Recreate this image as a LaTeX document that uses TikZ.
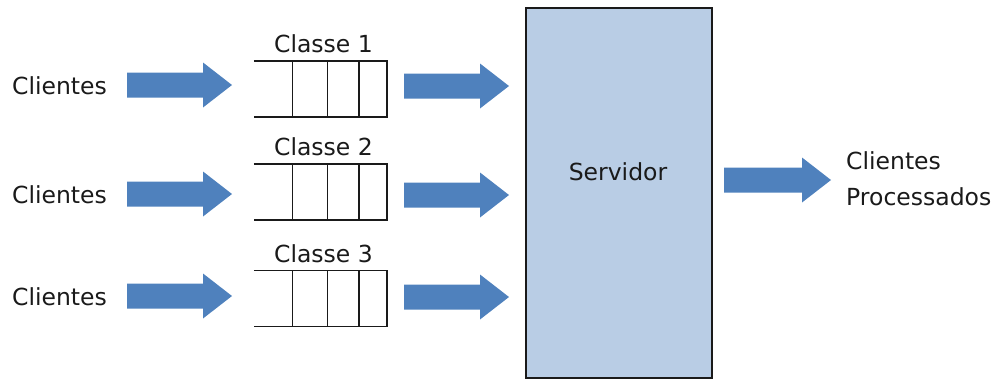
\documentclass[tikz,border=0pt]{standalone}
\usepackage{fontspec}
\setmainfont{DejaVu Sans}
\definecolor{arrowblue}{HTML}{4F81BD}
\definecolor{serverfill}{HTML}{B9CDE5}
\definecolor{ink}{HTML}{1A1A1A}
\tikzset{
  lbl/.style={font=\fontsize{23.5}{36}\selectfont, text=ink, inner sep=0pt},
  queuebox/.style={minimum width=133pt, minimum height=56pt, inner sep=0pt},
  qline/.style={line width=1.5pt, ink},
  serverbox/.style={draw=ink, line width=1.5pt, fill=serverfill,
    minimum width=186pt, minimum height=370pt, inner sep=0pt},
  pics/blockarrow/.style={code={
    \fill[arrowblue] (0,-12.5) -- (#1,-12.5) -- (#1,-22.5) -- (#1+29,0)
      -- (#1,22.5) -- (#1,12.5) -- (0,12.5) -- cycle;}}
}
\begin{document}
\begin{tikzpicture}[x=1pt,y=-1pt]
  \useasboundingbox (0,0) rectangle (998,381);

  % three queues, one per class
  \foreach \i/\y/\ay in {1/89/85, 2/192/194, 3/298.5/296} {
    \node[lbl] (c\i) at (59.5,\ay+1) {Clientes};
    \node[queuebox] (q\i) at (320.5,\y) {};
    \node[lbl] (l\i) at (323.5,\y-45) {Classe \i};
    \draw[qline] (q\i.north west) -- (q\i.north east) -- (q\i.south east)
      -- (q\i.south west);
    \foreach \dx in {38.5, 73.5, 105} {
      \draw[qline] ([xshift=\dx pt]q\i.north west) -- ([xshift=\dx pt]q\i.south west);
    }
    \pic at (127,\ay) {blockarrow=76};
    \pic at (404,\ay+1) {blockarrow=76};
  }

  % server
  \node[serverbox] (srv) at (619,193) {};
  \node[lbl] (srvlabel) at (618,172) {Servidor};

  % output
  \pic at (724,180) {blockarrow=78};
  \node[lbl, anchor=west, align=left] (out) at (846,179) {Clientes\\Processados};
\end{tikzpicture}
\end{document}
